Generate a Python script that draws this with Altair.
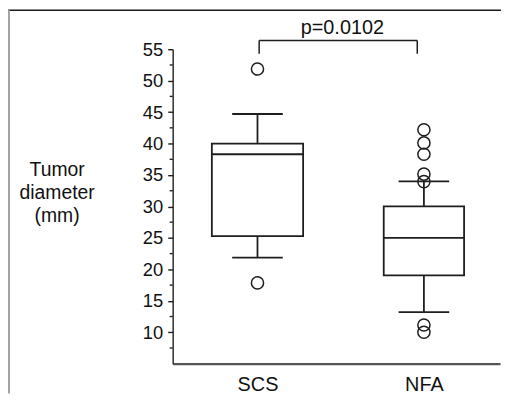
import altair as alt
import pandas as pd

# ---- data ----
groups = ["SCS", "NFA"]
group_pos = [1, 2]
q1 = [25.3, 19.05]
median = [38.3, 25.0]
q3 = [40.0, 30.0]
whisker_low = [21.85, 13.2]
whisker_high = [44.7, 34.0]
outliers_scs = [51.85, 17.85]
outliers_nfa = [42.2, 40.1, 38.3, 35.15, 33.95, 11.15, 10.0]
major_ticks = [10, 15, 20, 25, 30, 35, 40, 45, 50, 55]
minor_ticks = [7.5, 12.5, 17.5, 22.5, 27.5, 32.5, 37.5, 42.5, 47.5, 52.5]
p_label = "p=0.0102"
bracket_x = [1.01, 1.96]
bracket_top = 56.4
bracket_bottom = 54.3
p_label_x = 1.51
p_label_y = 57.4
y_title = ["Tumor", "diameter", "(mm)"]

FONT = "Liberation Sans"
INK = "#1e1e1e"

box_df = pd.DataFrame({"group": groups, "x": group_pos, "q1": q1, "median": median,
                       "q3": q3, "lo": whisker_low, "hi": whisker_high})
whisk_df = pd.DataFrame({
    "x": group_pos + group_pos,
    "y": q3 + q1,
    "y2": whisker_high + whisker_low,
})
cap_df = pd.DataFrame({"x": group_pos + group_pos, "y": whisker_high + whisker_low})
out_df = pd.DataFrame({
    "x": [1] * len(outliers_scs) + [2] * len(outliers_nfa),
    "y": outliers_scs + outliers_nfa,
})
minor_df = pd.DataFrame({"y": minor_ticks})
br_h = pd.DataFrame({"x": [bracket_x[0]], "x2": [bracket_x[1]], "y": [bracket_top]})
br_v = pd.DataFrame({"x": bracket_x, "y": [bracket_bottom] * 2, "y2": [bracket_top] * 2})
p_df = pd.DataFrame({"x": [p_label_x], "y": [p_label_y], "t": [p_label]})

xscale = alt.Scale(domain=[0.5202, 2.4277], nice=False, zero=False)
yscale = alt.Scale(domain=[5, 55], nice=False, zero=False)

label_expr = "datum.value == 1 ? 'SCS' : datum.value == 2 ? 'NFA' : ''"
xaxis = alt.Axis(values=group_pos, labelExpr=label_expr, ticks=False, grid=False,
                 title=None, labelFontSize=20, labelFont=FONT, labelColor="#111",
                 labelPadding=11, domainColor="#555", domainWidth=2.2)
yaxis = alt.Axis(values=major_ticks, grid=False, tickSize=5, tickWidth=1.4,
                 tickColor=INK, domainColor=INK, domainWidth=1.4,
                 labelFontSize=18.5, labelFont=FONT, labelColor="#111", labelPadding=5,
                 title=y_title, titleAngle=0, titleFont=FONT, titleFontSize=19.5,
                 titleFontWeight="normal", titleColor="#111", titleAlign="center",
                 titleBaseline="alphabetic", titleLineHeight=23.5,
                 titleX=-117, titleY=127)

X = alt.X("x:Q", scale=xscale, axis=xaxis)
Y = alt.Y("y:Q", scale=yscale, axis=yaxis)

box_w = alt.condition(alt.datum.group == "SCS", alt.value(92), alt.value(81))

boxes = alt.Chart(box_df).mark_bar(fill="white", stroke=INK, strokeWidth=1.8, opacity=1).encode(
    x=X, y=alt.Y("q1:Q", scale=yscale, axis=yaxis), y2="q3:Q", size=box_w)
medians = alt.Chart(box_df).mark_tick(orient="horizontal", thickness=1.8, color=INK,
                                      opacity=1).encode(
    x=X, y=alt.Y("median:Q", scale=yscale, axis=yaxis), size=box_w)
whiskers = alt.Chart(whisk_df).mark_rule(color=INK, strokeWidth=1.8).encode(
    x=X, y=Y, y2="y2:Q")
caps = alt.Chart(cap_df).mark_tick(orient="horizontal", thickness=1.8, size=51, color=INK,
                                   opacity=1).encode(x=X, y=Y)
points = alt.Chart(out_df).mark_point(shape="circle", filled=False, size=150,
                                      strokeWidth=1.5, color=INK, opacity=1).encode(x=X, y=Y)
minor = alt.Chart(minor_df).mark_rule(color=INK, strokeWidth=1.4).encode(
    x=alt.value(-3), x2=alt.value(0), y=Y)
bracket_h = alt.Chart(br_h).mark_rule(color=INK, strokeWidth=1.5).encode(
    x=X, x2="x2:Q", y=Y)
bracket_v = alt.Chart(br_v).mark_rule(color=INK, strokeWidth=1.5).encode(
    x=X, y=Y, y2="y2:Q")
ptext = alt.Chart(p_df).mark_text(font=FONT, fontSize=20, color="#111",
                                  baseline="alphabetic", align="center").encode(
    x=X, y=Y, text="t:N")

frame_top = alt.Chart(p_df).mark_rule(color="#1a1a1a", strokeWidth=1.5).encode(
    x=alt.value(-166), x2=alt.value(331), y=alt.value(-39.2))
frame_left = alt.Chart(p_df).mark_rule(color="#9a9a9a", strokeWidth=1.8).encode(
    x=alt.value(-165), y=alt.value(-40), y2=alt.value(347))

chart = alt.layer(boxes, medians, whiskers, caps, points, minor,
                  bracket_h, bracket_v, ptext, frame_top, frame_left).properties(
    width=330, height=317,
    autosize=alt.AutoSizeParams(type="none"),
    padding={"left": 166, "top": 40, "right": 6, "bottom": 30},
).configure_view(stroke=None)

chart.save("out.html", embed_options={"renderer": "svg", "actions": False})
